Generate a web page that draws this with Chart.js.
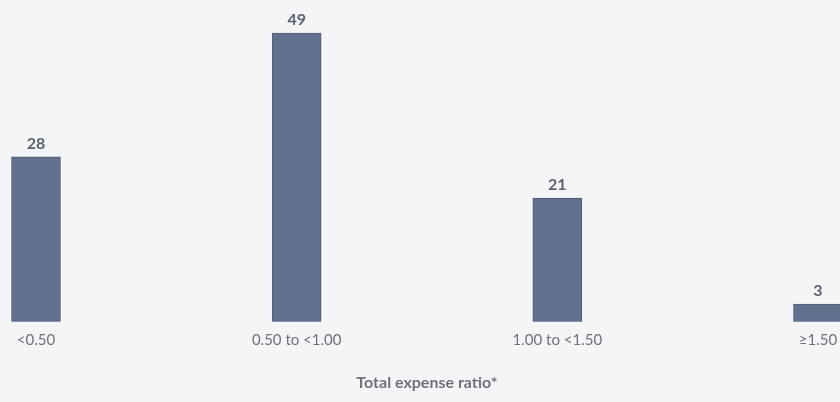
<!DOCTYPE html>
<html>
<head>
<meta charset="utf-8">
<script src="https://cdn.jsdelivr.net/npm/chart.js@4.4.1/dist/chart.umd.min.js"></script>
<style>
    html, body { margin: 0; padding: 0; background: #f4f5f7; }
    #wrap { width: 840px; height: 402px; }
</style>
</head>
<body>
<div id="wrap"><canvas id="terChart"></canvas></div>
<script>
// Chart data
const categories = ['<0.50', '0.50 to <1.00', '1.00 to <1.50', '\u22651.50'];
const counts = [28, 49, 21, 3];
const axisTitle = 'Total expense ratio*';

// Draw the number above each bar
const valueLabels = {
    id: 'valueLabels',
    afterDatasetsDraw(chart) {
        const ctx = chart.ctx;
        const meta = chart.getDatasetMeta(0);
        ctx.save();
        ctx.font = 'bold 16px Lato';
        ctx.fillStyle = '#5c6270';
        ctx.textAlign = 'center';
        ctx.textBaseline = 'bottom';
        meta.data.forEach((bar, i) => {
            ctx.fillText(counts[i], bar.x, bar.y - 5);
        });
        ctx.restore();
    }
};

const ctx = document.getElementById('terChart').getContext('2d');
new Chart(ctx, {
    type: 'bar',
    data: {
        labels: categories,
        datasets: [{
            data: counts,
            backgroundColor: '#60718f',
            borderColor: '#545c6c',
            borderWidth: 1,
            barThickness: 49,
            clip: false
        }]
    },
    options: {
        responsive: true,
        maintainAspectRatio: false,
        animation: false,
        layout: {
            padding: { left: 36, right: 22, top: 0, bottom: 10 }
        },
        plugins: {
            legend: { display: false },
            tooltip: { enabled: false }
        },
        scales: {
            x: {
                offset: false,
                grid: { display: false, drawTicks: false },
                border: { display: false },
                // let the last label run to the canvas edge
                afterFit: function(scale) {
                    scale.paddingLeft = 0;
                    scale.paddingRight = 0;
                },
                ticks: {
                    padding: 9,
                    maxRotation: 0,
                    autoSkip: false,
                    color: '#6e727a',
                    font: { family: 'Lato', size: 15 }
                },
                title: {
                    display: true,
                    text: axisTitle,
                    color: '#6e727a',
                    font: { family: 'Lato', size: 16, weight: 'bold' },
                    padding: { top: 15, bottom: 0 }
                }
            },
            y: {
                display: false,
                min: 0,
                max: 54.6
            }
        }
    },
    plugins: [valueLabels]
});
</script>
</body>
</html>
